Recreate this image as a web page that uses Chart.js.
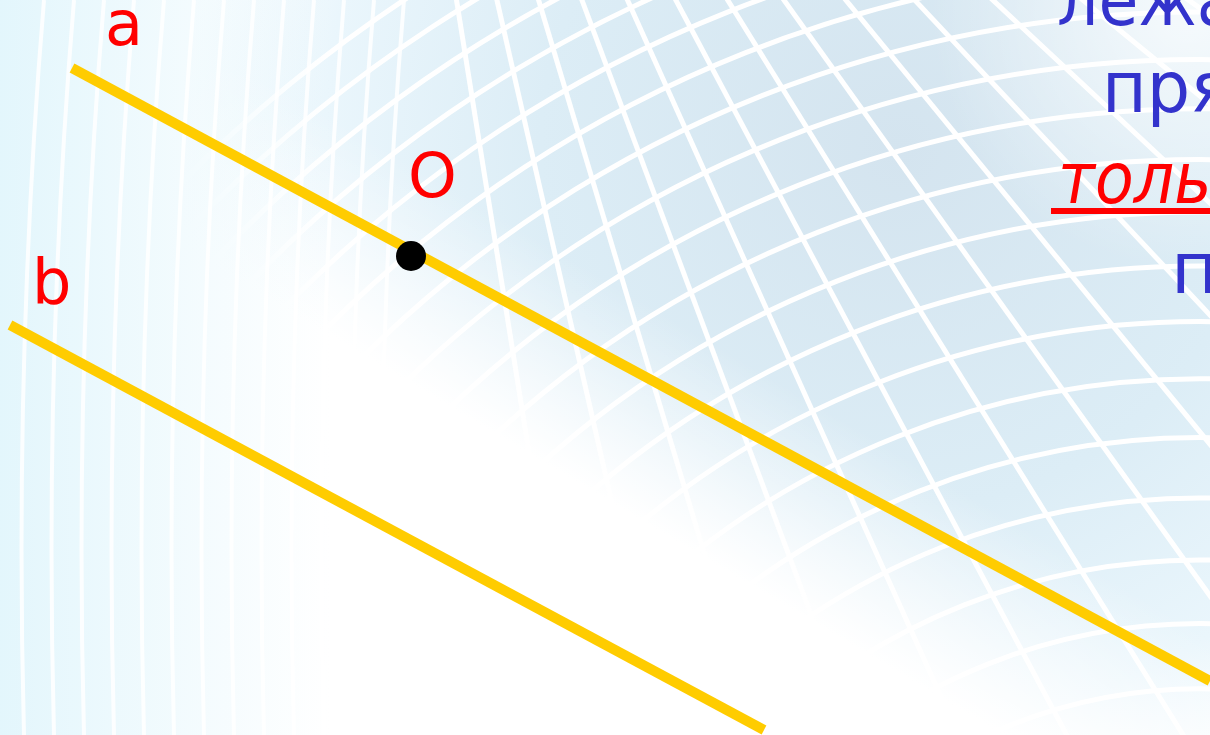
<!DOCTYPE html>
<html>
<head>
<meta charset="utf-8">
<script src="https://cdn.jsdelivr.net/npm/chart.js@4.4.1/dist/chart.umd.min.js"></script>
<style>
  html, body { margin: 0; padding: 0; background: #fff; overflow: hidden; }
  #wrap { width: 1210px; height: 735px; position: relative; }
</style>
</head>
<body>
<div id="wrap"><canvas id="slide"></canvas></div>
<script>
// line a, line b and point O, in slide pixels (y grows downward)
const lineAX = [72, 1210];
const lineAY = [68, 681];
const lineBX = [10, 764];
const lineBY = [325, 730];
const pointOX = [411];
const pointOY = [256];

// letters next to the figures
const labelText = ["a", "b", "O"];
const labelX = [105, 32, 408];
const labelY = [45, 303, 197];

// the cut-off sentence on the right
const sentence = ["лежа", "пря", "толь", "п"];

const toPoints = (xs, ys) => xs.map((x, i) => ({ x, y: ys[i] }));

const backdrop = {
  id: "backdrop",
  beforeDraw(chart) {
    const ctx = chart.ctx;
    const w = chart.width, h = chart.height;
    ctx.save();
    ctx.fillStyle = "#fff";
    ctx.fillRect(0, 0, w, h);

    // blue patch
    let g = ctx.createRadialGradient(900, 150, 0, 900, 150, 720);
    g.addColorStop(0, "rgb(212,228,239)");
    g.addColorStop(0.5, "rgb(220,237,246)");
    g.addColorStop(0.8, "rgb(234,246,252)");
    g.addColorStop(1, "rgb(255,255,255)");
    ctx.fillStyle = g;
    ctx.fillRect(0, 0, w, h);

    // fade to white below the diagonal
    g = ctx.createLinearGradient(760, 370, 760 - 0.51 * 190, 370 + 0.86 * 190);
    g.addColorStop(0, "rgba(255,255,255,0)");
    g.addColorStop(1, "rgba(255,255,255,1)");
    ctx.fillStyle = g;
    ctx.fillRect(0, 0, w, h);

    // pale top right corner
    g = ctx.createRadialGradient(1190, 10, 0, 1190, 10, 260);
    g.addColorStop(0, "rgba(255,255,255,0.75)");
    g.addColorStop(1, "rgba(255,255,255,0)");
    ctx.fillStyle = g;
    ctx.fillRect(0, 0, w, h);

    // white grid
    ctx.strokeStyle = "#fff";
    ctx.lineWidth = 5;
    let r = 1440, step = 38;
    while (r > 480) {
      ctx.beginPath();
      ctx.arc(1200, 1200, r, Math.PI, 1.5 * Math.PI + 0.25);
      ctx.stroke();
      r -= step;
      step += 1.6;
    }
    for (let a = 0.62; a < 1.42; a += 0.066) {
      ctx.beginPath();
      ctx.moveTo(362, -590);
      ctx.lineTo(362 + Math.cos(a) * 2200, -590 + Math.sin(a) * 2200);
      ctx.stroke();
    }

    // light stripes on the left
    g = ctx.createLinearGradient(0, 0, 330, 0);
    g.addColorStop(0, "rgba(215,242,251,0.7)");
    g.addColorStop(1, "rgba(215,242,251,0)");
    ctx.fillStyle = g;
    ctx.fillRect(0, 0, 330, h);
    ctx.lineWidth = 4;
    ctx.strokeStyle = "rgba(255,255,255,0.85)";
    for (let x = 14; x < 380; x += 30) {
      ctx.beginPath();
      ctx.moveTo(x + 30, 0);
      ctx.quadraticCurveTo(x, 360, x + 10, h);
      ctx.stroke();
    }
    ctx.restore();
  }
};

// draw text squeezed a little sideways, the slide font is narrower than DejaVu
function squeezed(ctx, text, x, y, sx) {
  ctx.save();
  ctx.translate(x, y);
  ctx.scale(sx, 1);
  ctx.fillText(text, 0, 0);
  ctx.restore();
}

const lettering = {
  id: "lettering",
  afterDatasetsDraw(chart) {
    const ctx = chart.ctx;
    const xs = chart.scales.x, ys = chart.scales.y;
    ctx.save();
    ctx.textBaseline = "alphabetic";
    ctx.textAlign = "left";

    ctx.fillStyle = "#ff0000";
    ctx.font = "62px 'DejaVu Sans'";
    labelText.forEach((t, i) => {
      ctx.fillText(t, xs.getPixelForValue(labelX[i]), ys.getPixelForValue(labelY[i]));
    });

    ctx.font = "72px 'DejaVu Sans'";
    ctx.fillStyle = "#3333cc";
    squeezed(ctx, sentence[0], 1057, 25, 0.9);
    squeezed(ctx, sentence[1], 1102, 112, 0.95);
    ctx.fillText(sentence[3], 1171, 293);

    ctx.font = "oblique 72px 'DejaVu Sans'";
    ctx.fillStyle = "#ff0000";
    squeezed(ctx, sentence[2], 1058, 203, 0.88);
    ctx.fillRect(1051, 208, 200, 6);
    ctx.restore();
  }
};

new Chart(document.getElementById("slide"), {
  type: "scatter",
  data: {
    datasets: [
      {
        label: "O",
        data: toPoints(pointOX, pointOY),
        pointRadius: 15,
        backgroundColor: "#000",
        borderWidth: 0,
        showLine: false
      },
      {
        label: "a",
        data: toPoints(lineAX, lineAY),
        showLine: true,
        borderColor: "#ffcc00",
        borderWidth: 10,
        pointRadius: 0
      },
      {
        label: "b",
        data: toPoints(lineBX, lineBY),
        showLine: true,
        borderColor: "#ffcc00",
        borderWidth: 10,
        pointRadius: 0
      }
    ]
  },
  options: {
    responsive: true,
    maintainAspectRatio: false,
    animation: false,
    events: [],
    layout: { padding: 0, autoPadding: false },
    plugins: { legend: { display: false }, tooltip: { enabled: false } },
    scales: {
      x: { type: "linear", min: 0, max: 1210, display: false },
      y: { type: "linear", min: 0, max: 735, reverse: true, display: false }
    }
  },
  plugins: [backdrop, lettering]
});
</script>
</body>
</html>
